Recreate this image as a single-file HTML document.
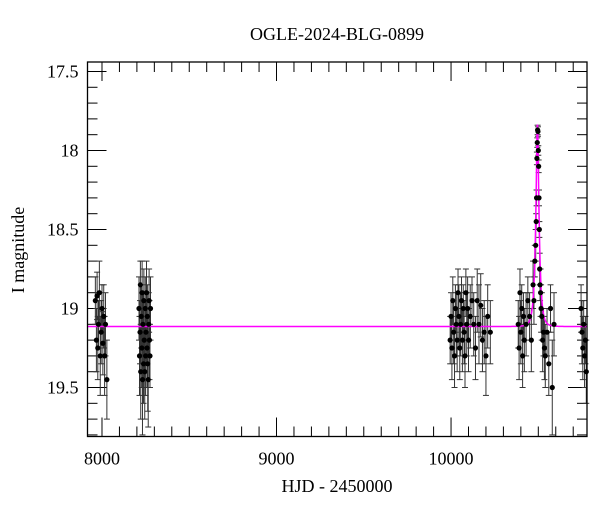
<!DOCTYPE html>
<html><head><meta charset="utf-8">
<style>
body{margin:0;background:#fff;}
svg text{font-family:"Liberation Serif","DejaVu Serif",serif;fill:#000;}
</style></head>
<body>
<svg id="chart" width="600" height="512" viewBox="0 0 600 512">
<text x="337" y="40" font-size="18" text-anchor="middle">OGLE-2024-BLG-0899</text>
<text x="337" y="492" font-size="18" text-anchor="middle">HJD - 2450000</text>
<text x="0" y="0" font-size="18" text-anchor="middle" transform="translate(24,250) rotate(-90)">I magnitude</text>
<g id="ticks"></g>
<g id="errs"></g>
<g id="model"></g>
<g id="pts"></g>
<rect x="87.5" y="62" width="499.5" height="374.5" fill="none" stroke="#000" stroke-width="1.3"/>
</svg>
<script>
const xTicks=[8000,9000,10000];
const yTicks=[17.5,18,18.5,19,19.5];
const tData=[7962,7968,7972,7976,7980,7985,7990,7995,8000,8005,8010,8015,8020,8028,
8212,8215,8218,8220,8222,8225,8228,8230,8232,8235,8238,8240,8242,8245,8248,8250,8252,8255,8258,8260,8262,8265,8268,8270,8272,8275,8278,
9995,10000,10005,10010,10015,10020,10025,10030,10035,10040,10045,10050,10055,10060,10065,10070,10075,10080,10085,10090,10095,10100,10110,10120,10130,10140,10150,10160,10170,10180,10190,10200,10210,10225,
10385,10390,10395,10400,10405,10410,10415,10420,10430,10440,10450,10460,10470,10475,10480,10485,10488,10490,10492,10494,10496,10498,10500,10502,10504,10506,10508,10510,10513,10516,10520,10525,10530,10535,10540,10550,10560,10570,10580,10590,
10745,10750,10755,10760,10765,10770,10775];
const magData=[18.95,19.2,18.92,19.25,19.1,18.9,19.3,19.15,19.0,19.22,19.05,19.3,19.1,19.45,
19.0,19.3,19.15,18.85,19.4,19.05,19.25,18.9,19.45,19.1,19.35,18.95,19.2,19.4,19.0,19.3,19.15,18.9,19.25,19.05,19.35,19.45,19.1,18.95,19.2,19.3,19.0,
19.2,19.05,19.25,18.95,19.15,19.3,19.0,19.1,19.2,18.9,19.05,19.25,19.1,18.95,19.2,19.0,19.15,19.3,18.9,19.1,19.0,19.2,19.05,18.95,19.1,19.25,18.95,19.1,18.98,19.2,19.15,19.3,19.05,19.15,
19.1,19.25,18.9,19.15,19.0,19.3,19.05,19.2,19.1,18.95,19.05,19.2,18.85,18.95,18.7,18.6,18.45,18.3,18.05,17.95,17.87,17.88,18.0,18.1,18.3,18.5,18.75,18.85,18.9,19.0,19.05,19.2,19.15,19.25,19.3,19.15,19.35,19.0,19.5,19.1,
19.0,19.15,19.25,19.1,19.3,19.2,19.4];
const errData=[0.15,0.2,0.15,0.2,0.15,0.2,0.25,0.2,0.15,0.2,0.2,0.25,0.2,0.25,
0.2,0.25,0.2,0.15,0.3,0.2,0.25,0.2,0.35,0.2,0.25,0.2,0.25,0.3,0.2,0.25,0.2,0.2,0.25,0.2,0.3,0.3,0.2,0.2,0.25,0.2,0.2,
0.15,0.15,0.2,0.15,0.2,0.2,0.15,0.2,0.2,0.15,0.2,0.2,0.2,0.15,0.2,0.15,0.2,0.2,0.15,0.2,0.2,0.2,0.2,0.15,0.2,0.2,0.2,0.25,0.2,0.2,0.2,0.25,0.2,0.2,
0.15,0.2,0.15,0.2,0.15,0.2,0.15,0.2,0.2,0.15,0.15,0.2,0.15,0.15,0.1,0.1,0.05,0.05,0.04,0.03,0.03,0.03,0.03,0.04,0.05,0.05,0.1,0.1,0.15,0.15,0.15,0.2,0.15,0.2,0.2,0.15,0.2,0.15,0.3,0.2,
0.15,0.2,0.2,0.15,0.2,0.15,0.2];
const modelParams=[10495,19,0.32,19.114]; // t0, tE, u0, baseline
const X0=87.5,X1=587,T0=7917,T1=10779,Y0=62,Y1=436.5,M0=17.44,M1=19.81;
const xs=t=>X0+(t-T0)/(T1-T0)*(X1-X0);
const ys=m=>Y0+(m-M0)/(M1-M0)*(Y1-Y0);
const NS='http://www.w3.org/2000/svg';
function mk(tag,attrs,parent){const e=document.createElementNS(NS,tag);for(const k in attrs)e.setAttribute(k,attrs[k]);parent.appendChild(e);return e;}
const tk=document.getElementById('ticks');
for(let v=7900;v<=10780;v+=100){if(v<T0)continue;const x=xs(v);const major=v%1000===0;const l=major?19:10;
const a=mk('line',{x1:x,x2:x,y1:Y1,y2:Y1-l,stroke:'#000','stroke-width':1},tk);

const b=mk('line',{x1:x,x2:x,y1:Y0,y2:Y0+l,stroke:'#000','stroke-width':1},tk);
}
xTicks.forEach(v=>{const t=mk('text',{x:xs(v),y:Y1+28,'font-size':18,'text-anchor':'middle'},tk);t.textContent=v;
});
for(let i=0;i<=24;i++){const v=17.5+i*0.1;if(v>M1)break;const y=ys(v);const major=Math.abs(v*2-Math.round(v*2))<1e-6;const l=major?19:10;
const a=mk('line',{x1:X0,x2:X0+l,y1:y,y2:y,stroke:'#000','stroke-width':1},tk);

const b=mk('line',{x1:X1,x2:X1-l,y1:y,y2:y,stroke:'#000','stroke-width':1},tk);
}
yTicks.forEach(v=>{const t=mk('text',{x:X0-9,y:ys(v)+6,'font-size':18,'text-anchor':'end'},tk);t.textContent=String(v);
});
const [t0,tE,u0,base]=modelParams;let d='';
for(let t=T0;t<=T1;t+=0.5){const u=Math.sqrt(u0*u0+((t-t0)/tE)**2);const A=(u*u+2)/(u*Math.sqrt(u*u+4));const m=base-2.5*Math.log10(A);d+=(d?'L':'M')+xs(t).toFixed(2)+','+ys(m).toFixed(2);}
const mp=mk('path',{d:d,fill:'none',stroke:'#ff00ff','stroke-width':1.5},document.getElementById('model'));

const eg=document.getElementById('errs'),pg=document.getElementById('pts');
tData.forEach((t,i)=>{const x=xs(t),m=magData[i],e=errData[i];
const l=mk('line',{x1:x,x2:x,y1:ys(m-e),y2:ys(m+e),stroke:'#333','stroke-width':1},eg);

['-','+'].forEach(s=>{const yy=ys(s==='-'?m-e:m+e);const c=mk('line',{x1:x-3,x2:x+3,y1:yy,y2:yy,stroke:'#333','stroke-width':1},eg);
});
const p=mk('circle',{cx:x,cy:ys(m),r:2.6,fill:'#000'},pg);
});
</script>
</body></html>
